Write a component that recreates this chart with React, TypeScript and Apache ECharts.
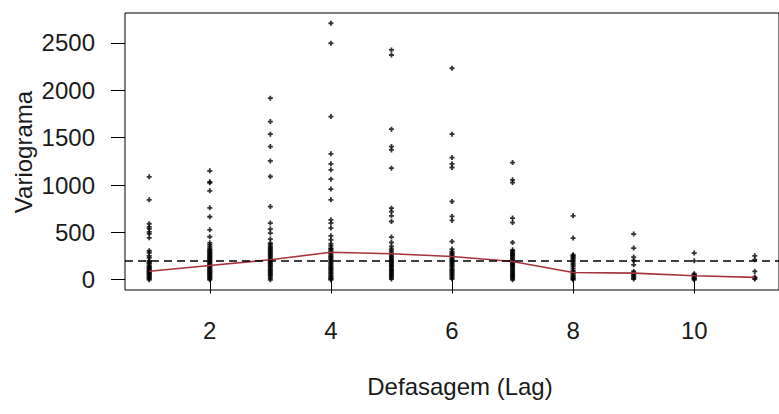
import React, { useEffect, useRef } from "react";
import * as echarts from "echarts";

// Empirical variogram cloud: semivariance of every pair, grouped by lag
const LAGS = [1, 2, 3, 4, 5, 6, 7, 8, 9, 10, 11];

const CLOUD_LAG_1 = [1087, 844, 591, 559, 538, 506, 485, 443, 306, 285, 253, 232, 200, 190, 179, 168, 148, 137, 127, 116, 105, 95, 84, 74, 63, 53, 42, 32, 21, 11, 0];
const CLOUD_LAG_2 = [1150, 1034, 1023, 939, 759, 665, 527, 454, 390, 369, 348, 327, 316, 305, 295, 284, 274, 264, 253, 243, 232, 222, 211, 200, 190, 179, 168, 158, 148, 137, 127, 116, 105, 95, 84, 74, 63, 53, 42, 32, 21, 11, 0];
const CLOUD_LAG_3 = [1917, 1670, 1537, 1406, 1255, 1090, 773, 598, 535, 493, 429, 387, 370, 351, 337, 324, 311, 299, 286, 274, 260, 246, 232, 218, 205, 193, 181, 169, 155, 141, 127, 113, 100, 88, 75, 63, 49, 35, 18, 0];
const CLOUD_LAG_4 = [2708, 2497, 1723, 1329, 1224, 1160, 1062, 957, 844, 633, 598, 545, 464, 422, 380, 357, 334, 322, 309, 295, 282, 268, 253, 241, 229, 216, 204, 190, 176, 162, 148, 136, 123, 111, 98, 85, 71, 57, 42, 30, 18, 9, 0];
const CLOUD_LAG_5 = [2426, 2373, 1590, 1406, 1371, 1178, 756, 720, 675, 615, 450, 393, 351, 324, 303, 282, 264, 246, 232, 218, 205, 193, 181, 169, 155, 141, 127, 113, 100, 88, 75, 63, 49, 35, 21, 7];
const CLOUD_LAG_6 = [2233, 1537, 1290, 1224, 1185, 826, 668, 626, 404, 324, 299, 286, 274, 260, 246, 232, 218, 205, 193, 181, 169, 155, 141, 127, 113, 100, 88, 75, 63, 49, 35, 21, 7];
const CLOUD_LAG_7 = [1237, 1055, 1026, 651, 604, 393, 316, 302, 288, 276, 264, 252, 239, 225, 211, 196, 182, 170, 158, 146, 134, 120, 105, 91, 77, 65, 53, 40, 28, 14, 0];
const CLOUD_LAG_8 = [675, 440, 264, 252, 239, 225, 211, 194, 176, 158, 141, 120, 98, 85, 71, 57, 42, 30, 18, 9, 0];
const CLOUD_LAG_9 = [482, 334, 239, 204, 158, 88, 75, 63, 49, 35, 21, 7];
const CLOUD_LAG_10 = [282, 200, 63, 52, 42, 30, 18, 9, 0];
const CLOUD_LAG_11 = [253, 211, 88, 28, 17, 7];

const CLOUD_BY_LAG = [
  CLOUD_LAG_1, CLOUD_LAG_2, CLOUD_LAG_3, CLOUD_LAG_4, CLOUD_LAG_5, CLOUD_LAG_6,
  CLOUD_LAG_7, CLOUD_LAG_8, CLOUD_LAG_9, CLOUD_LAG_10, CLOUD_LAG_11,
];

// Mean semivariance per lag (red curve) and the sample variance (dashed line)
const LAG_MEANS = [90, 150, 211, 290, 274, 246, 193, 77, 70, 42, 25];
const SAMPLE_VARIANCE = 200;

const X_TICKS = [2, 4, 6, 8, 10];
const Y_TICKS = [0, 500, 1000, 1500, 2000, 2500];

const X_TITLE = "Defasagem (Lag)";
const Y_TITLE = "Variograma";

const FONT = "'Liberation Sans', Arial, Helvetica, sans-serif";
const FONT_SIZE = 24;
const TEXT_COLOR = "#1a1a1a";
const PLUS = "path://M1.6,0H3.4V1.6H5V3.4H3.4V5H1.6V3.4H0V1.6H1.6Z";

export default function App() {
  const ref = useRef<HTMLDivElement>(null);

  useEffect(() => {
    if (!ref.current) return;
    const chart = echarts.init(ref.current, undefined, { renderer: "svg" });

    const cloud: number[][] = [];
    LAGS.forEach((lag, i) => {
      CLOUD_BY_LAG[i].forEach((v) => cloud.push([lag, v]));
    });
    const means = LAGS.map((lag, i) => [lag, LAG_MEANS[i]]);

    // data range padded by 4% on each side, like base R graphics
    const yMaxData = Math.max(...cloud.map((p) => p[1]));
    const yMinData = Math.min(...cloud.map((p) => p[1]));
    const yPad = (yMaxData - yMinData) * 0.04;
    const xPad = (LAGS[LAGS.length - 1] - LAGS[0]) * 0.04;

    chart.setOption({
      animation: false,
      backgroundColor: "#ffffff",
      textStyle: { fontFamily: FONT },
      grid: {
        left: 125,
        top: 13,
        width: 663,
        height: 277,
        show: true,
        borderColor: "#000000",
        borderWidth: 1,
        backgroundColor: "transparent",
      },
      xAxis: {
        type: "value",
        min: LAGS[0] - xPad,
        max: LAGS[LAGS.length - 1] + xPad,
        axisLine: { show: false },
        splitLine: { show: false },
        axisTick: {
          show: true,
          inside: false,
          length: 14,
          customValues: X_TICKS,
          lineStyle: { color: "#000000", width: 1 },
        },
        axisLabel: {
          customValues: X_TICKS,
          formatter: (v: number) => String(v),
          margin: 28,
          fontSize: FONT_SIZE,
          fontFamily: FONT,
          color: TEXT_COLOR,
        },
      },
      yAxis: {
        type: "value",
        min: yMinData - yPad,
        max: yMaxData + yPad,
        axisLine: { show: false },
        splitLine: { show: false },
        axisTick: {
          show: true,
          inside: false,
          length: 14,
          customValues: Y_TICKS,
          lineStyle: { color: "#000000", width: 1 },
        },
        axisLabel: {
          customValues: Y_TICKS,
          formatter: (v: number) => String(v),
          margin: 30,
          fontSize: FONT_SIZE,
          fontFamily: FONT,
          color: TEXT_COLOR,
        },
      },
      series: [
        {
          type: "scatter",
          data: cloud,
          symbol: PLUS,
          symbolSize: 5,
          itemStyle: { color: "#000000" },
          z: 2,
          silent: true,
        },
        {
          type: "line",
          data: means,
          symbol: "none",
          lineStyle: { color: "#a8323c", width: 1.6 },
          z: 3,
          silent: true,
          markLine: {
            silent: true,
            symbol: "none",
            label: { show: false },
            lineStyle: { color: "#000000", width: 1.6, type: [8, 5] },
            data: [{ yAxis: SAMPLE_VARIANCE }],
          },
        },
      ],
      graphic: [
        {
          type: "text",
          x: 460,
          y: 386,
          style: {
            text: X_TITLE,
            font: `${FONT_SIZE}px ${FONT}`,
            fill: TEXT_COLOR,
            align: "center",
            verticalAlign: "middle",
            textAlign: "center",
            textVerticalAlign: "middle",
          },
        },
        {
          type: "text",
          x: 23,
          y: 152,
          rotation: Math.PI / 2,
          style: {
            text: Y_TITLE,
            font: `${FONT_SIZE}px ${FONT}`,
            fill: TEXT_COLOR,
            align: "center",
            verticalAlign: "middle",
            textAlign: "center",
            textVerticalAlign: "middle",
          },
        },
      ],
    });

    return () => chart.dispose();
  }, []);

  return (
    <div
      ref={ref}
      style={{ position: "fixed", left: 0, top: 0, width: 779, height: 414 }}
    />
  );
}
